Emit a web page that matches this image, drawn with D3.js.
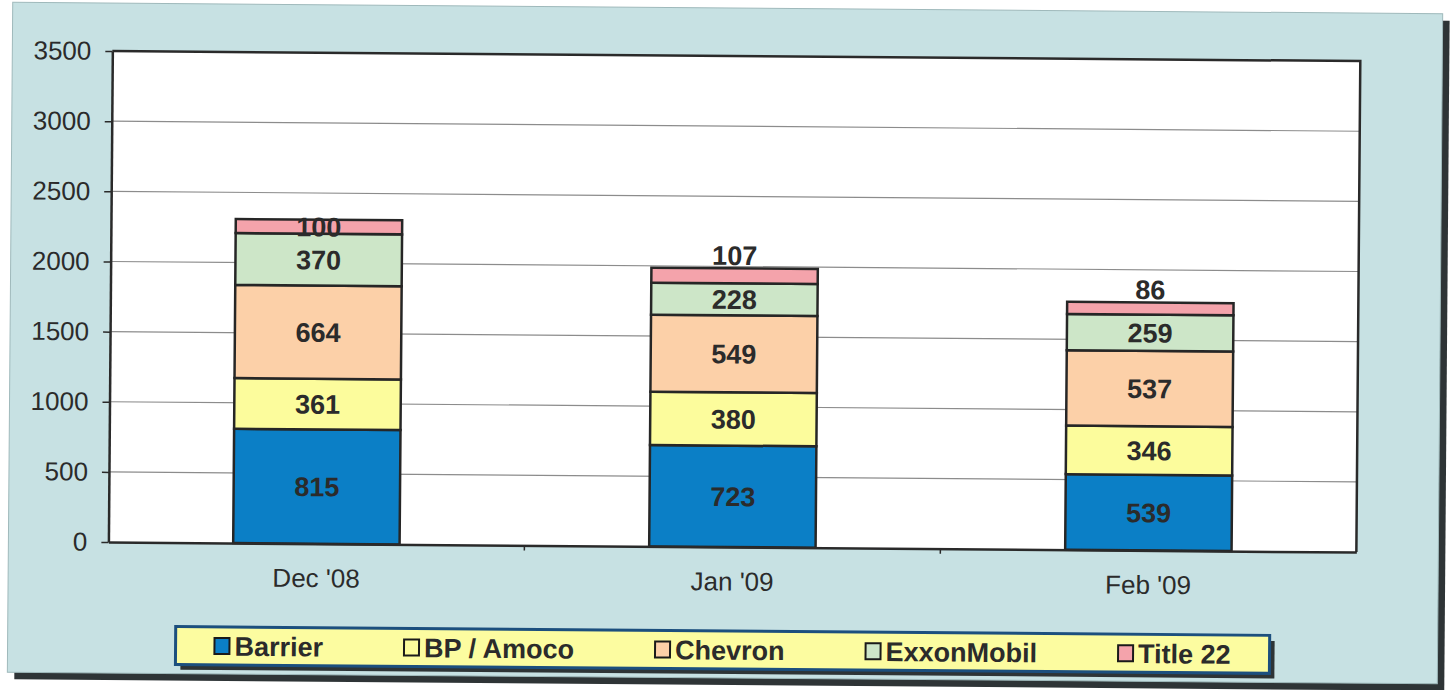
<!DOCTYPE html>
<html>
<head>
<meta charset="utf-8">
<script src="https://cdn.jsdelivr.net/npm/d3@7"></script>
<style>
  html, body { margin: 0; padding: 0; background: #ffffff; }
  svg { display: block; }
  text { font-family: Arial, "Liberation Sans", sans-serif; }
</style>
</head>
<body>
<svg id="chart" width="1450" height="690"></svg>
<script>
// ---- data ----
const categories = ["Dec '08", "Jan '09", "Feb '09"];
const seriesNames = ["Barrier", "BP / Amoco", "Chevron", "ExxonMobil", "Title 22"];
const barrier    = [815, 723, 539];
const bpAmoco    = [361, 380, 346];
const chevron    = [664, 549, 537];
const exxonMobil = [370, 228, 259];
const title22    = [100, 107, 86];
const yTicks = [0, 500, 1000, 1500, 2000, 2500, 3000, 3500];
// whether the top segment's label sits above the bar
const topLabelAbove = [false, true, true];

const seriesValues = [barrier, bpAmoco, chevron, exxonMobil, title22];
const colors = ["#0b7fc6", "#fcfc9c", "#fcd0a8", "#cde6c8", "#f4a3ab"];

const svg = d3.select("#chart");
const root = svg.append("g").attr("transform", "rotate(0.46, 725, 345)");

// card background with shadow
root.append("rect").attr("x", 17).attr("y", 15).attr("width", 1430).attr("height", 670).attr("fill", "#2e3436");
root.append("rect").attr("x", 10).attr("y", 8).attr("width", 1430).attr("height", 670)
  .attr("fill", "#c7e1e3").attr("stroke", "#9fb9bb").attr("stroke-width", 1);

const plot = { left: 110, right: 1358, top: 56, bottom: 547 };

const x = d3.scaleBand().domain(categories).range([plot.left, plot.right])
  .paddingInner(0.6).paddingOuter(0.3);
const y = d3.scaleLinear().domain([0, 3500]).range([plot.bottom, plot.top]);

// plot area
root.append("rect").attr("x", plot.left).attr("y", plot.top)
  .attr("width", plot.right - plot.left).attr("height", plot.bottom - plot.top)
  .attr("fill", "#ffffff");

// gridlines
root.append("g").selectAll("line").data(yTicks.filter(d => d > 0 && d < 3500)).join("line")
  .attr("x1", plot.left).attr("x2", plot.right)
  .attr("y1", d => y(d)).attr("y2", d => y(d))
  .attr("stroke", "#8c8c8c").attr("stroke-width", 1.2);

// stacked data
const tableRows = categories.map((c, i) => {
  const row = { cat: c };
  seriesNames.forEach((s, j) => row[s] = seriesValues[j][i]);
  return row;
});
const stack = d3.stack().keys(seriesNames)(tableRows);

const barsG = root.append("g");
stack.forEach((layer, j) => {
  barsG.selectAll(null).data(layer).join("rect")
    .attr("x", d => x(d.data.cat))
    .attr("y", d => y(d[1]))
    .attr("width", x.bandwidth())
    .attr("height", d => y(d[0]) - y(d[1]))
    .attr("fill", colors[j])
    .attr("stroke", "#262626")
    .attr("stroke-width", 2.5);
});

// value labels
const labelsG = root.append("g");
stack.forEach((layer, j) => {
  layer.forEach((d, i) => {
    const isTop = j === seriesNames.length - 1;
    let ly = (y(d[0]) + y(d[1])) / 2;
    if (isTop && topLabelAbove[i]) ly = y(d[1]) - 13;
    labelsG.append("text")
      .attr("x", x(d.data.cat) + x.bandwidth() / 2)
      .attr("y", ly)
      .attr("dy", "0.36em")
      .attr("text-anchor", "middle")
      .attr("font-size", 27)
      .attr("font-weight", "bold")
      .attr("fill", "#2b2b2b")
      .text(d[1] - d[0]);
  });
});

// plot border top/right
root.append("path")
  .attr("d", `M${plot.left},${plot.top}H${plot.right}V${plot.bottom}`)
  .attr("fill", "none").attr("stroke", "#2a2a2a").attr("stroke-width", 2.5);

// y axis
const yAxis = root.append("g").attr("transform", `translate(${plot.left},0)`)
  .call(d3.axisLeft(y).tickValues(yTicks).tickFormat(d3.format("d"))
    .tickSize(7).tickPadding(14).tickSizeOuter(0));
yAxis.select(".domain").attr("stroke", "#2a2a2a").attr("stroke-width", 2.5);
yAxis.selectAll(".tick line").attr("stroke", "#2a2a2a").attr("stroke-width", 1.5);
yAxis.selectAll(".tick text").attr("font-size", 26).attr("fill", "#2b2b2b")
  .style("font-family", "Arial, 'Liberation Sans', sans-serif");

// x axis
const xAxis = root.append("g").attr("transform", `translate(0,${plot.bottom})`)
  .call(d3.axisBottom(x).tickSize(0).tickPadding(25).tickSizeOuter(0));
xAxis.select(".domain").attr("stroke", "#2a2a2a").attr("stroke-width", 2.5);
xAxis.selectAll(".tick text").attr("font-size", 26).attr("fill", "#2b2b2b")
  .style("font-family", "Arial, 'Liberation Sans', sans-serif");
// category boundary ticks
root.append("g").selectAll("line").data(categories.slice(1)).join("line")
  .attr("x1", d => x(d) - x.step() * x.paddingInner() / 2)
  .attr("x2", d => x(d) - x.step() * x.paddingInner() / 2)
  .attr("y1", plot.bottom).attr("y2", plot.bottom + 5)
  .attr("stroke", "#2a2a2a").attr("stroke-width", 1.5);

// legend
const lg = { left: 178, top: 631, width: 1094, height: 38 };
root.append("rect").attr("x", lg.left + 5).attr("y", lg.top + 5)
  .attr("width", lg.width).attr("height", lg.height).attr("fill", "#2e3436");
root.append("rect").attr("x", lg.left).attr("y", lg.top)
  .attr("width", lg.width).attr("height", lg.height)
  .attr("fill", "#fcfca0").attr("stroke", "#1c4f7e").attr("stroke-width", 3);

const legendG = root.append("g");
const items = seriesNames.map((name, j) => {
  const g = legendG.append("g");
  g.append("rect").attr("x", 0).attr("y", -8).attr("width", 15).attr("height", 16)
    .attr("fill", colors[j]).attr("stroke", "#1a1a1a").attr("stroke-width", 2);
  const t = g.append("text").attr("x", 20).attr("y", 0).attr("dy", "0.36em")
    .attr("font-size", 27).attr("font-weight", "bold").attr("fill", "#2b2b2b").text(name);
  return { g, w: 20 + t.node().getComputedTextLength() };
});
const gap = 81;
const totalW = d3.sum(items, d => d.w) + gap * (items.length - 1);
let cx = lg.left + (lg.width - totalW) / 2;
items.forEach(it => {
  it.g.attr("transform", `translate(${cx},${lg.top + lg.height / 2})`);
  cx += it.w + gap;
});
</script>
</body>
</html>
